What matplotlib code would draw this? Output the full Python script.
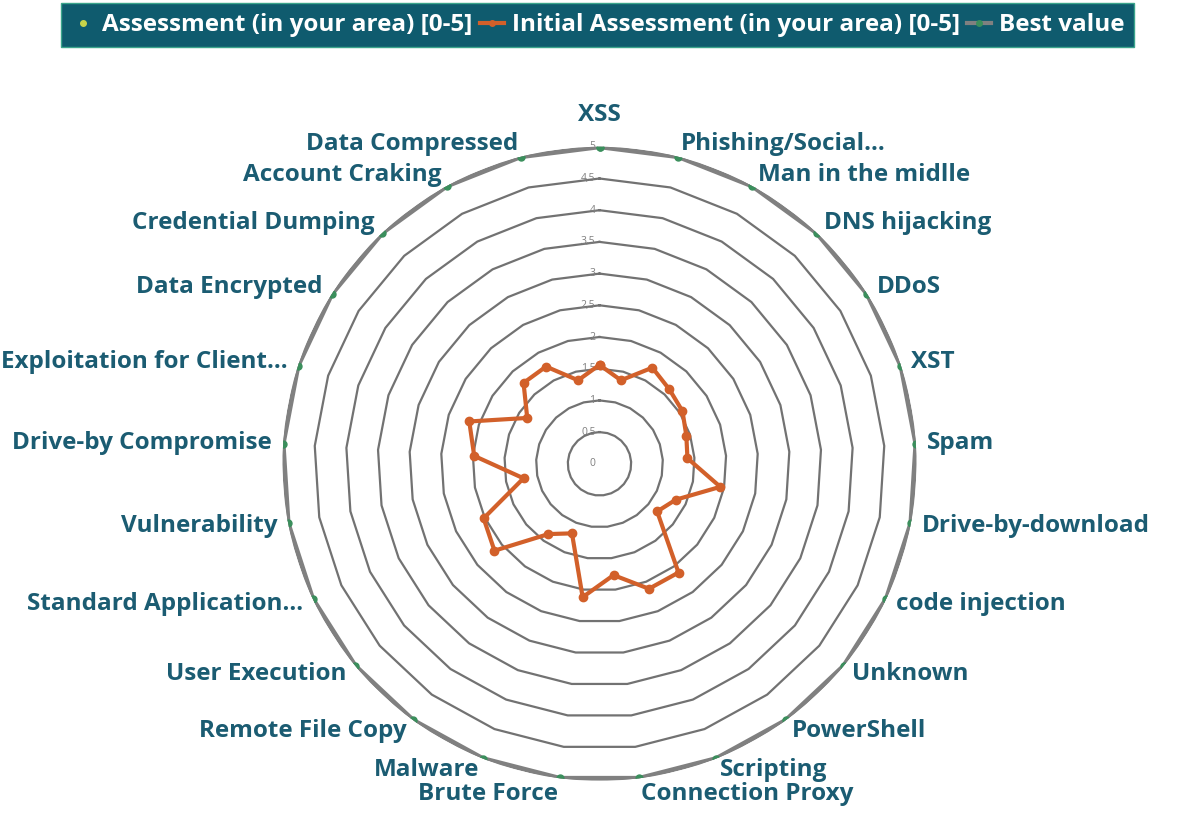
import numpy as np
import matplotlib
matplotlib.use("Agg")
import matplotlib.pyplot as plt
from matplotlib.lines import Line2D

# Data
categories = ["XSS", "Phishing/Social...", "Man in the midlle", "DNS hijacking", "DDoS",
              "XST", "Spam", "Drive-by-download", "code injection", "Unknown",
              "PowerShell", "Scripting", "Connection Proxy", "Brute Force", "Malware",
              "Remote File Copy", "User Execution", "Standard Application...", "Vulnerability",
              "Drive-by Compromise", "Exploitation for Client...", "Data Encrypted",
              "Credential Dumping", "Account Craking", "Data Compressed"]
initial_assessment = [1.56, 1.36, 1.73, 1.61, 1.55, 1.44, 1.39, 1.94, 1.33, 1.18,
                      2.12, 2.12, 1.77, 2.12, 1.18, 1.37, 2.15, 2.02, 1.22, 1.98,
                      2.16, 1.35, 1.75, 1.75, 1.36]
best_value = [5, 5, 5, 5, 5, 5, 5, 5, 5, 5, 5, 5, 5, 5, 5, 5, 5, 5, 5, 5, 5, 5, 5, 5, 5]
assessment = []  # no values entered in the source chart
ring_levels = [0.5, 1, 1.5, 2, 2.5, 3, 3.5, 4, 4.5, 5]
ring_labels = ["0", "0,5", "1", "1,5", "2", "2,5", "3", "3,5", "4", "4,5", "5"]

label_color = "#1B5C72"
orange = "#D2602A"
grey = "#808080"
green = "#3A8F5C"

plt.rcParams['font.family'] = ['Open Sans', 'DejaVu Sans']

fig = plt.figure(figsize=(11.81, 8.31), dpi=100)
cx, cy, rad = 599.5 / 1181, 1 - 463.8 / 831, 317.0
ax = fig.add_axes([cx - rad / 1181, cy - rad / 831, 2 * rad / 1181, 2 * rad / 831], projection='polar')
ax.set_theta_zero_location('N')
ax.set_theta_direction(-1)
ax.set_ylim(0, 5)
ax.grid(False)
ax.spines['polar'].set_visible(False)
ax.set_xticks([])
ax.set_yticks([])
ax.patch.set_alpha(0)

n = len(categories)
angles = np.arange(n) * 2 * np.pi / n
closed = np.append(angles, angles[0])

# polygon gridlines like Excel
for r in ring_levels:
    ax.plot(closed, [r] * (n + 1), color="#727272", lw=1.6, zorder=1)

for r, lbl in zip([0] + ring_levels, ring_labels):
    ax.annotate(lbl, xy=(0, r), xytext=(-4, 0), textcoords='offset pixels',
                ha='right', va='center', fontsize=7.5, color="#7F7F7F", zorder=2)

ax.plot(closed, best_value + best_value[:1], color=grey, lw=3.5, marker='o',
        markersize=5, markerfacecolor=green, markeredgecolor=green, zorder=3)
ax.plot(closed, initial_assessment + initial_assessment[:1], color=orange, lw=3,
        marker='o', markersize=6, markerfacecolor=orange, markeredgecolor=orange, zorder=4)
ax.plot(angles[:len(assessment)], assessment, ls='none', marker='o', color="#C8D44A", zorder=5)

for a, name, v in zip(angles, categories, best_value):
    s, c = np.sin(a), np.cos(a)
    if abs(s) < 0.1 and c > 0:
        ha, va, off = 'center', 'bottom', (0, 20)
    else:
        ha = 'left' if s > 0 else 'right'
        va = 'center'
        off = (11 * s, 13 * c)
        # bottom pairs sit close together: stack them so they just touch
        if c < -0.98:
            va, off = 'top', (2 * np.sign(s), -4)
        elif c < -0.9:
            va, off = 'bottom', (11 * s, -23)
    ax.annotate(name, xy=(a, v), xytext=off, textcoords='offset pixels',
                ha=ha, va=va, fontsize=17.5, fontweight='bold', color=label_color,
                annotation_clip=False)

handles = [
    Line2D([], [], ls='none', marker='o', markersize=4, color="#C8D44A"),
    Line2D([], [], color=orange, lw=3, marker='o', markersize=4),
    Line2D([], [], color=grey, lw=3, marker='o', markersize=4,
           markerfacecolor=green, markeredgecolor=green),
]
leg = fig.legend(handles, ["Assessment (in your area) [0-5]",
                           "Initial Assessment (in your area) [0-5]", "Best value"],
                 loc='upper center', bbox_to_anchor=(0.506, 0.996), ncol=3,
                 borderaxespad=0, frameon=True, fancybox=False, facecolor="#0F5B6E",
                 edgecolor="#3BA58C", framealpha=1, handlelength=1.0, handletextpad=0.3,
                 columnspacing=0.3, borderpad=0.4, prop={'weight': 'bold', 'size': 17.5})
for t in leg.get_texts():
    t.set_color('white')

fig.savefig("out.png", dpi=100)
